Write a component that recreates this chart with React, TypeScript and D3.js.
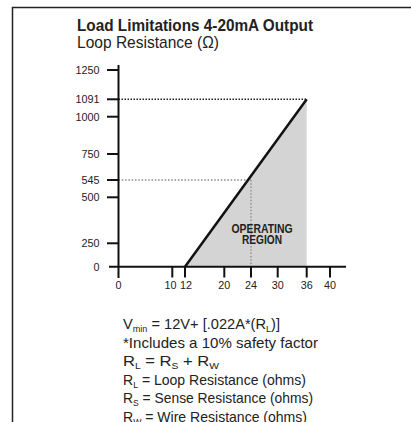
import React from 'react';
import * as d3 from 'd3';

// schematic axes: tick values and where the original places them
const yTickValues = [0, 250, 500, 545, 750, 1000, 1091, 1250];
const yTickPos = [266.7, 243.3, 197.3, 180, 154, 116.7, 99.3, 70];
const xTickValues = [0, 10, 12, 20, 24, 30, 36, 40];
const xTickPos = [118.5, 172.3, 185, 224.3, 251, 277.7, 306.7, 330];

// load line: supply volts vs. max loop resistance
const loadLine = [
    { volts: 12, ohms: 0 },
    { volts: 36, ohms: 1091 },
];
const marker = { volts: 24, ohms: 545 };
const maxPoint = { volts: 36, ohms: 1091 };

// notes under the chart, [text, isSubscript]
type Seg = [string, boolean];
const notes: { segs: Seg[]; len: number }[] = [
    { segs: [['V', false], ['min', true], [' = 12V+ [.022A*(R', false], ['L', true], [')]', false]], len: 157 },
    { segs: [['*Includes a 10% safety factor', false]], len: 195 },
    { segs: [['R', false], ['L', true], [' = R', false], ['S', true], [' + R', false], ['W', true]], len: 96 },
    { segs: [['R', false], ['L', true], [' = Loop Resistance (ohms)', false]], len: 183 },
    { segs: [['R', false], ['S', true], [' = Sense Resistance (ohms)', false]], len: 190 },
    { segs: [['R', false], ['W', true], [' = Wire Resistance (ohms)', false]], len: 184 },
];

const font = '"Liberation Sans", Arial, Helvetica, sans-serif';

const App: React.FC = () => {
    const width = 411;
    const height = 422;

    const x = d3.scaleLinear().domain(xTickValues).range(xTickPos);
    const y = d3.scaleLinear().domain(yTickValues).range(yTickPos);

    const line = d3.line<{ volts: number; ohms: number }>()
        .x(d => x(d.volts))
        .y(d => y(d.ohms));

    const region = [
        { volts: 12, ohms: 0 },
        { volts: 36, ohms: 1091 },
        { volts: 36, ohms: 0 },
    ];
    const regionPath = line(region) + 'Z';

    const x0 = x(0);
    const yBase = y(0);

    const renderSegs = (segs: Seg[]) => {
        let prevSub = false;
        return segs.map(([t, isSub], i) => {
            const dy = isSub === prevSub ? 0 : isSub ? 3 : -3;
            prevSub = isSub;
            return (
                <tspan key={i} dy={dy} fontSize={isSub ? 9 : undefined}>{t}</tspan>
            );
        });
    };

    // the original nudges the crowded 10 / 12 labels apart
    const labelNudge = (v: number) => (v === 10 ? -1.8 : v === 12 ? 1 : 0);

    return (
        <svg width={width} height={height} style={{ position: 'fixed', left: 0, top: 0, background: '#fff' }}>
            <rect x={0} y={0} width={width} height={height} fill="#fff" />
            {/* frame */}
            <path d={`M12.5,${height} V7.5 H${width}`} fill="none" stroke="#222" strokeWidth={1.5} />

            <text x={77} y={30.5} fontFamily={font} fontWeight="bold" fontSize={17} fill="#222"
                textLength={236} lengthAdjust="spacingAndGlyphs">
                Load Limitations 4-20mA Output
            </text>
            <text x={77} y={47.5} fontFamily={font} fontSize={17} fill="#222"
                textLength={142} lengthAdjust="spacingAndGlyphs">
                Loop Resistance (Ω)
            </text>

            {/* operating region */}
            <path d={regionPath} fill="#d4d4d4" />

            {/* guide lines */}
            <line x1={x0} x2={x(maxPoint.volts)} y1={y(maxPoint.ohms)} y2={y(maxPoint.ohms)}
                stroke="#222" strokeWidth={1.5} strokeDasharray="1.5,1.5" />
            <line x1={x0} x2={x(marker.volts)} y1={y(marker.ohms)} y2={y(marker.ohms)}
                stroke="#888" strokeWidth={1.3} strokeDasharray="1.5,1.8" />
            <line x1={x(marker.volts)} x2={x(marker.volts)} y1={y(marker.ohms)} y2={yBase}
                stroke="#888" strokeWidth={1.3} strokeDasharray="1.5,1.8" />

            <path d={line(loadLine) || ''} fill="none" stroke="#111" strokeWidth={2.5} />

            <text x={262} y={232.5} textAnchor="middle" fontFamily={font} fontWeight="bold" fontSize={13} fill="#222"
                textLength={61} lengthAdjust="spacingAndGlyphs">OPERATING</text>
            <text x={262} y={244} textAnchor="middle" fontFamily={font} fontWeight="bold" fontSize={13} fill="#222"
                textLength={40} lengthAdjust="spacingAndGlyphs">REGION</text>

            {/* axes */}
            <line x1={x0} x2={x0} y1={65} y2={278} stroke="#111" strokeWidth={2} />
            <line x1={109} x2={346} y1={yBase} y2={yBase} stroke="#111" strokeWidth={2} />

            {yTickValues.map(v => (
                <g key={'y' + v}>
                    {v !== 0 && <line x1={107} x2={x0} y1={y(v)} y2={y(v)} stroke="#111" strokeWidth={2} />}
                    <text x={99.5} y={y(v) + 3.8} textAnchor="end" fontFamily={font} fontSize={10.8} fill="#222">{v}</text>
                </g>
            ))}
            {xTickValues.map(v => (
                <g key={'x' + v}>
                    {v !== 0 && <line x1={x(v)} x2={x(v)} y1={yBase} y2={277.5} stroke="#111" strokeWidth={2} />}
                    <text x={x(v) + labelNudge(v)} y={289} textAnchor="middle" fontFamily={font} fontSize={10.8} fill="#222">{v}</text>
                </g>
            ))}

            {/* notes */}
            <g fontFamily={font} fontSize={14.5} fill="#222">
                {notes.map((n, i) => (
                    <text key={i} x={123} y={329 + i * 18.6} textLength={n.len} lengthAdjust="spacingAndGlyphs">
                        {renderSegs(n.segs)}
                    </text>
                ))}
            </g>
        </svg>
    );
};

export default App;
